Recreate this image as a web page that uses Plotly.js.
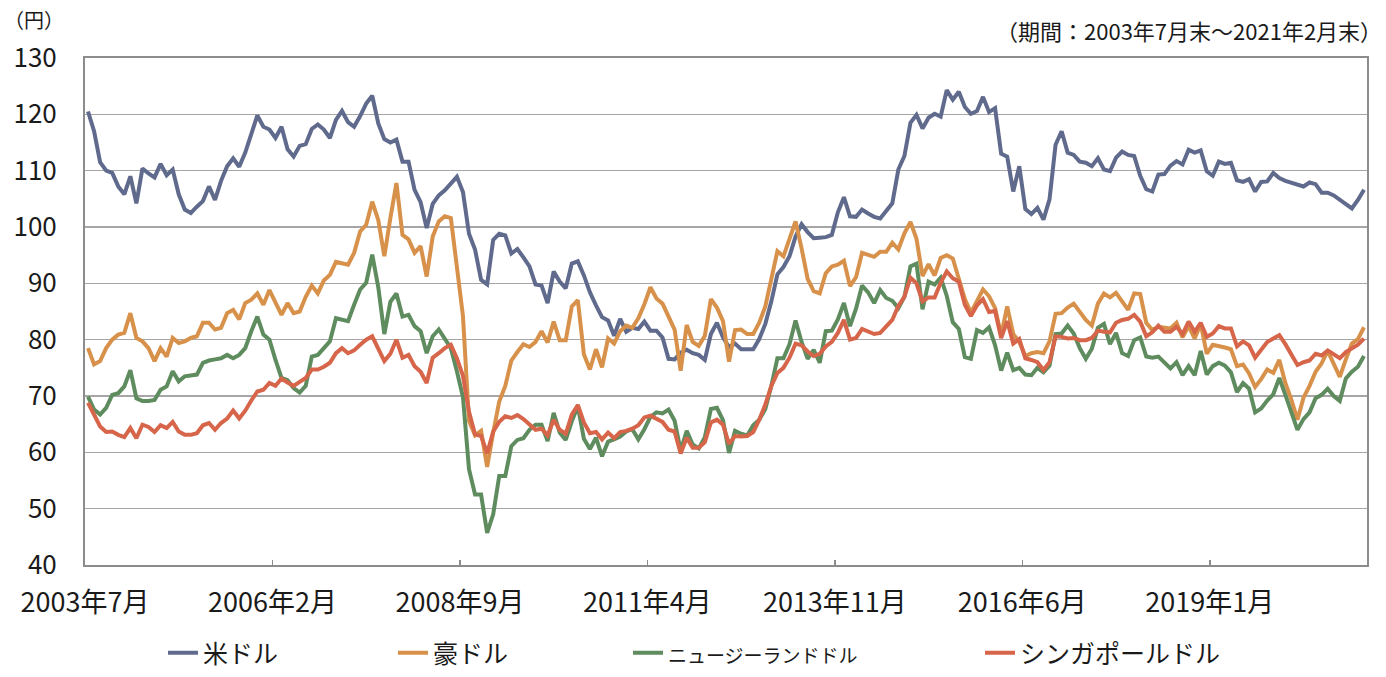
<!DOCTYPE html>
<html><head><meta charset="utf-8">
<script src="https://cdn.plot.ly/plotly-3.0.1.min.js"></script>
<style>html,body{margin:0;padding:0;background:#fff;} #chart{width:1386px;height:677px;}</style>
</head><body><div id="chart"></div>
<script>
// Month-end JPY rates, 2003-07 .. 2021-02 (monthly)
const startYear = 2003, startMonth = 7;

const usd = [
 120.5,117.0,111.5,110.0,109.6,107.2,
 105.8,109.0,104.2,110.4,109.5,108.8,111.2,109.2,110.2,105.8,103.1,102.5,
 103.6,104.6,107.2,104.8,108.2,110.8,112.2,110.7,113.2,116.3,119.8,117.8,
 117.3,115.8,117.8,113.8,112.5,114.4,114.7,117.4,118.2,117.3,115.8,119.0,
 120.6,118.6,117.8,119.7,121.9,123.3,118.4,115.6,115.0,115.5,111.6,111.6,
 106.6,104.4,99.8,104.1,105.6,106.5,107.6,108.9,106.2,98.8,96.0,90.6,
 89.8,97.7,98.8,98.5,95.3,96.1,94.6,93.0,89.8,89.6,86.5,92.1,
 90.3,89.1,93.5,93.9,91.4,88.4,86.1,84.0,83.4,80.7,83.7,81.4,
 82.1,81.9,83.2,81.6,81.6,80.4,76.6,76.5,77.7,78.2,77.6,77.3,
 76.4,81.0,83.0,80.4,78.7,79.3,78.3,78.3,78.3,80.1,82.8,86.8,
 91.6,92.9,94.8,98.3,100.5,99.1,98.0,98.1,98.2,98.6,102.6,105.3,
 101.9,101.8,103.1,102.4,101.8,101.5,102.9,104.2,110.2,112.6,118.5,119.9,
 117.5,119.4,120.1,119.6,124.3,122.6,124.0,121.3,120.1,120.6,123.1,120.4,
 121.1,113.0,112.5,106.3,110.8,103.2,102.3,103.4,101.3,104.9,114.6,117.0,
 113.2,112.8,111.6,111.4,110.8,112.2,110.2,109.9,112.3,113.4,112.8,112.6,
 109.1,106.7,106.3,109.3,109.4,110.9,111.7,111.1,113.7,113.2,113.6,109.9,
 109.1,111.6,111.2,111.4,108.3,108.0,108.5,106.3,108.0,108.1,109.6,108.7,
 108.2,107.9,107.6,107.2,107.9,107.6,106.1,106.1,105.6,104.8,104.2,103.3,
 104.8,106.6
];

const aud = [
 78.5,75.6,76.2,78.5,80.0,80.9,
 81.2,84.7,80.3,79.7,78.5,76.2,78.5,77.0,80.3,79.4,79.7,80.3,
 80.6,83.0,83.0,81.8,82.1,84.7,85.3,83.6,86.5,87.1,88.2,86.2,
 88.8,86.5,84.4,86.5,84.7,85.0,87.6,89.6,88.2,90.5,91.5,93.8,
 93.6,93.3,95.4,99.2,100.4,104.5,101.2,94.8,101.6,107.8,98.6,97.8,
 95.4,96.6,91.2,98.3,101.0,101.9,101.6,93.4,84.2,65.6,63.0,63.8,
 57.4,63.5,69.0,71.8,76.3,77.8,79.2,78.7,79.6,81.5,79.5,83.2,
 79.9,79.9,85.9,87.0,77.4,74.7,78.3,75.1,80.2,79.3,81.5,82.5,
 82.1,83.8,86.3,89.3,87.3,86.4,84.0,81.8,74.5,82.6,79.6,78.9,
 80.7,87.2,85.7,83.3,76.1,81.7,81.8,81.0,81.0,83.0,85.9,90.5,
 95.7,94.8,97.8,101.0,96.2,90.8,88.6,88.2,91.8,93.0,93.3,94.0,
 89.5,91.1,95.4,95.0,94.7,95.6,95.6,97.2,96.0,98.9,100.9,97.9,
 91.3,93.4,91.4,94.5,95.0,94.4,90.5,87.2,84.8,87.0,88.9,87.7,
 85.6,80.8,85.9,81.0,79.6,77.1,77.6,77.8,77.6,79.7,84.6,84.7,
 85.7,86.4,85.0,83.5,82.5,86.4,88.2,87.5,88.3,86.8,85.3,88.2,
 88.1,83.0,81.7,82.3,82.2,82.0,83.0,80.4,82.4,80.2,82.8,77.5,
 79.1,78.9,78.6,78.3,75.3,75.6,74.0,71.6,73.0,74.7,74.1,76.4,
 72.3,69.3,65.8,69.7,71.8,74.3,75.8,78.0,75.8,73.4,76.5,79.3,
 80.1,82.2
];

const nzd = [
 69.9,67.6,66.7,67.9,70.2,70.5,
 71.7,74.6,69.6,69.1,69.1,69.3,71.1,71.7,74.4,72.6,73.5,73.7,
 73.8,75.9,76.3,76.5,76.7,77.3,76.7,77.3,78.5,81.5,84.1,80.9,
 80.0,76.4,73.2,72.8,71.4,70.6,71.8,77.0,77.3,78.5,79.7,83.8,
 83.5,83.3,86.2,88.9,90.1,95.1,89.3,81.0,86.7,88.2,84.1,84.4,
 82.4,81.5,77.6,80.6,81.8,80.3,78.5,74.4,69.8,57.0,52.5,52.5,
 45.7,49.0,55.8,55.8,61.1,62.2,62.5,64.0,64.9,64.9,62.0,67.0,
 63.5,62.2,65.5,68.2,62.4,60.6,62.6,59.3,61.9,62.3,62.8,63.7,
 64.1,62.3,64.1,66.3,67.1,66.9,67.6,65.6,60.3,63.8,61.4,60.7,
 62.7,67.7,67.9,65.7,59.9,63.8,63.3,63.0,64.8,65.8,67.7,71.8,
 76.7,76.7,79.2,83.4,79.6,76.6,78.2,75.9,81.5,81.6,83.6,86.5,
 82.4,85.5,89.6,88.4,86.5,88.8,87.4,86.9,85.6,87.6,93.0,93.5,
 85.4,90.3,89.8,91.0,87.8,83.1,81.9,76.9,76.6,81.7,81.2,82.2,
 79.0,74.5,77.7,74.6,75.0,73.8,73.7,75.0,74.2,75.4,81.0,81.1,
 82.5,81.1,78.5,76.6,78.4,82.1,82.8,79.2,81.2,77.6,77.1,79.9,
 80.4,77.0,76.8,77.0,75.9,74.9,76.0,73.7,75.3,73.7,78.0,73.8,
 75.3,75.9,75.4,74.2,70.7,72.3,71.3,67.1,67.8,69.2,70.3,73.2,
 70.2,67.3,64.0,65.9,67.1,69.6,70.2,71.3,70.0,69.1,73.1,74.3,
 75.2,77.1
];

const sgd = [
 68.8,66.7,64.6,63.6,63.7,63.1,
 62.7,64.3,62.5,64.9,64.5,63.6,64.8,64.3,65.4,63.7,63.1,63.1,
 63.4,64.8,65.2,64.0,65.2,66.0,67.4,66.0,67.4,69.2,70.8,71.1,
 72.3,71.8,73.1,72.4,71.8,72.5,73.2,74.7,74.7,75.2,75.9,77.6,
 78.5,77.6,78.1,79.1,80.0,80.6,78.5,76.2,77.5,80.0,76.8,77.3,
 75.3,74.3,72.3,76.8,77.6,78.5,79.1,76.7,73.6,67.2,63.2,62.9,
 59.8,63.7,65.4,66.4,66.1,66.6,65.9,64.9,64.0,64.2,63.0,65.8,
 64.0,63.3,66.7,68.4,65.3,63.4,63.6,62.3,63.5,62.5,63.6,63.8,
 64.2,64.8,66.2,66.5,66.0,65.4,64.0,63.7,59.8,62.6,60.8,60.8,
 61.8,65.3,65.8,64.9,61.5,62.9,62.8,62.9,63.6,65.8,68.5,71.8,
 74.1,75.0,76.8,79.3,79.0,77.9,77.1,77.5,78.8,79.6,81.2,83.5,
 80.0,80.3,81.9,81.5,81.0,81.2,82.4,83.5,86.0,87.6,91.0,90.0,
 86.8,87.5,87.5,90.1,92.1,90.9,90.3,86.2,84.2,86.1,87.2,84.9,
 85.1,80.3,83.3,79.3,80.1,76.7,76.4,76.0,74.6,76.0,80.6,80.5,
 80.2,80.3,79.9,79.9,80.3,81.6,81.4,81.3,83.0,83.5,83.7,84.4,
 83.2,80.6,81.3,82.5,81.4,81.4,82.3,81.0,83.2,81.4,83.0,80.5,
 81.1,82.4,82.0,82.0,78.8,79.7,79.0,76.8,78.2,79.6,80.2,80.8,
 79.2,77.4,75.5,76.0,76.3,77.5,77.2,78.1,77.3,76.7,77.8,78.4,
 79.1,80.2
];

const seriesNames = ['米ドル', '豪ドル', 'ニュージーランドドル', 'シンガポールドル'];
const seriesColors = ['#5f6a8c', '#d8914a', '#5f8c5f', '#d6654a'];
const tickLabels = ['2003年7月','2006年2月','2008年9月','2011年4月','2013年11月','2016年6月','2019年1月'];
const tickEvery = 31; // months between labelled ticks

const n = usd.length;
const idx = Array.from({length: n}, (_, i) => i);
const monthText = idx.map(i => { const m = startMonth - 1 + i; return (startYear + Math.floor(m / 12)) + '年' + (m % 12 + 1) + '月'; });

const W = 1386, H = 677, L = 85, R = 19, T = 58, B = 112;
const pw = W - L - R, ph = H - T - B;
const px = p => (p - L) / pw;
const py = p => (H - B - p) / ph;

const FONT = '"Noto Sans CJK JP", "Noto Sans", sans-serif';
const allSeries = [usd, aud, nzd, sgd];
const legendIds = ['legend', 'legend2', 'legend3', 'legend4'];
const legendNames = [
  seriesNames[0], seriesNames[1],
  '<span style="font-size:19px">' + seriesNames[2] + '</span>',
  seriesNames[3]
];

const traces = allSeries.map((ys, k) => ({
  type: 'scatter', mode: 'lines', x: idx, y: ys, text: monthText,
  name: legendNames[k], legend: legendIds[k],
  line: {color: seriesColors[k], width: 4, shape: 'linear'},
  hovertemplate: '%{text}: %{y:.1f}<extra>' + seriesNames[k] + '</extra>'
}));

const legendTextStart = [203, 433, 668, 1020];
const mkLegend = (k) => ({
  x: px(legendTextStart[k] - 40), y: py(676), xanchor: 'left', yanchor: 'bottom',
  orientation: 'h', bgcolor: 'rgba(0,0,0,0)', borderwidth: 0,
  font: {family: FONT, size: 25, color: '#1a1a1a'}, itemwidth: 30
});

const layout = {
  width: W, height: H,
  margin: {l: L, r: R, t: T, b: B, pad: 0, autoexpand: false},
  paper_bgcolor: '#ffffff', plot_bgcolor: '#ffffff',
  font: {family: FONT, color: '#1a1a1a'},
  showlegend: true,
  xaxis: {
    range: [-0.5, n - 0.5],
    tickmode: 'array',
    tickvals: tickLabels.map((_, j) => j * tickEvery - 0.5),
    ticktext: tickLabels,
    ticks: 'inside', ticklen: 5, tickwidth: 1.5, tickcolor: '#8c8c8c',
    showgrid: false, zeroline: false,
    showline: true, mirror: true, linecolor: '#8c8c8c', linewidth: 2,
    tickfont: {family: FONT, size: 27, color: '#1a1a1a'},
    ticklabelstandoff: 13, fixedrange: true, automargin: false
  },
  yaxis: {
    range: [40, 130], tickmode: 'linear', tick0: 40, dtick: 10,
    showgrid: true, gridcolor: '#a6a6a6', gridwidth: 1.5,
    ticks: '', zeroline: false,
    showline: true, mirror: true, linecolor: '#8c8c8c', linewidth: 2,
    tickfont: {family: FONT, size: 26, color: '#1a1a1a'},
    ticklabelstandoff: 21, fixedrange: true, automargin: false
  },
  legend: mkLegend(0), legend2: mkLegend(1), legend3: mkLegend(2), legend4: mkLegend(3),
  annotations: [
    {xref: 'paper', yref: 'paper', x: px(2), y: py(19), xanchor: 'left', yanchor: 'middle',
     text: '（円）', showarrow: false, font: {family: FONT, size: 20, color: '#1a1a1a'}},
    {xref: 'paper', yref: 'paper', x: px(1384), y: py(30), xanchor: 'right', yanchor: 'middle',
     text: '（期間：2003年7月末～2021年2月末）', showarrow: false, font: {family: FONT, size: 22, color: '#1a1a1a'}}
  ]
};

Plotly.newPlot('chart', traces, layout, {displayModeBar: false, staticPlot: true});
</script>
</body></html>
